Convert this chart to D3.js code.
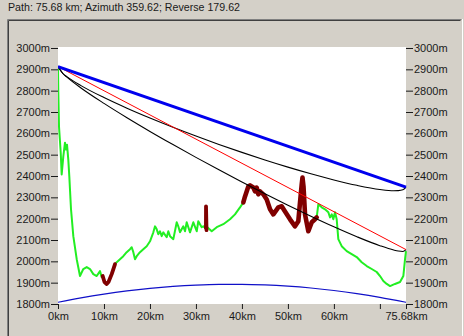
<!DOCTYPE html>
<html><head><meta charset="utf-8">
<script src="https://cdn.jsdelivr.net/npm/d3@7"></script>
<style>
html,body{margin:0;padding:0;background:#d4d0c8;overflow:hidden;}
svg{display:block;}
text{font-family:"Liberation Sans",Arial,sans-serif;font-size:11px;fill:#1a1a1a;}
</style></head>
<body>
<svg id="c" width="464" height="336"></svg>
<script>
const title = "Path: 75.68 km; Azimuth 359.62; Reverse 179.62";
const pathLength = 75.68;
const xTicks = [0, 10, 20, 30, 40, 50, 60, 70, 75.68];
const xTickLabels = ["0km","10km","20km","30km","40km","50km","60km","","75.68km"];
const yTicks = [1800,1900,2000,2100,2200,2300,2400,2500,2600,2700,2800,2900,3000];

// terrain profile (km, m)
const terrainKm = [0,0.07,0.22,0.59,0.80,1.15,1.52,1.74,1.96,2.24,2.46,2.83,3.33,4.07,4.78,5.50,6.24,6.96,7.68,8.42,9.13,9.50,9.72,10.11,10.59,10.98,11.68,12.40,12.77,13.48,14.20,14.94,15.66,16.03,16.38,16.75,17.12,17.83,18.55,19.29,20.01,20.73,21.10,21.47,21.81,22.18,22.55,22.90,23.64,23.99,24.36,25.08,25.82,26.16,26.53,27.25,27.62,27.99,28.71,29.43,30.17,30.51,31.25,31.60,32.08,32.17,32.19,32.30,32.47,33.43,34.52,35.95,37.41,38.49,39.58,40.30,40.67,41.39,41.76,42.48,42.84,43.21,43.56,43.93,44.65,45.39,46.11,46.83,47.91,48.65,49.37,50.46,51.54,52.26,52.63,53.00,53.17,53.39,53.72,54.44,55.18,55.89,56.26,56.61,57.35,58.07,58.79,59.16,59.53,59.87,60.24,60.61,60.96,61.70,62.79,63.87,64.96,66.05,67.14,68.23,69.31,70.03,70.75,71.49,72.21,73.29,74.38,75.10,75.47,75.68];
const terrainM = [2911,2790,2631,2510,2407,2491,2556,2524,2547,2477,2398,2244,2118,2010,1931,1964,1973,1964,1940,1931,1954,1926,1931,1903,1894,1903,1940,1987,1996,2010,2024,2043,2057,2066,2043,2010,2024,2043,2057,2071,2094,2136,2164,2150,2127,2141,2118,2136,2113,2141,2118,2104,2183,2164,2136,2164,2141,2183,2136,2183,2141,2188,2160,2164,2155,2155,2258,2146,2160,2141,2160,2174,2197,2220,2253,2276,2304,2351,2356,2346,2328,2346,2314,2328,2314,2290,2244,2220,2253,2258,2234,2197,2164,2188,2276,2360,2393,2351,2220,2141,2183,2197,2206,2267,2253,2244,2230,2206,2220,2197,2230,2197,2104,2071,2048,2034,2020,1996,1978,1964,1950,1931,1908,1894,1884,1894,1903,1931,2010,2048];
// obstructed stretches drawn in dark red (km ranges)
const obstructedRanges = [[9.70,12.45],[32.15,32.32],[40.25,56.30]];

// straight lines (km, m)
const blueLineKm = [0, 75.68];
const blueLineM = [2913, 2348];
const redLineKm = [0, 75.68];
const redLineM = [2913, 2055];

// curved clearance lines
const curveKm = [0,1,2,5,10,15,20,25,30,35,40,45,50,55,60,65,70,73,74,75,75.68];
const upperBlackM = [2913,2881.6,2864.4,2823.6,2767.5,2717.7,2671.6,2628.2,2587.1,2547.9,2510.7,2475.1,2441.6,2410.3,2381.6,2356.3,2336.9,2331.1,2331.6,2335.3,2348];
const lowerBlackM = [2913,2881.7,2862.2,2812.8,2740.4,2673.1,2609.0,2547.3,2487.3,2428.9,2372.1,2316.9,2263.2,2211.5,2161.9,2115.2,2073.3,2053.1,2048.3,2046.2,2055];

// earth bulge baseline
const bulgeKm = [0,5,10,15,20,25,30,35,40,45,50,55,60,65,70,75.68];
const bulgeM = [1808,1828.8,1846.6,1861.5,1873.5,1882.5,1888.6,1891.8,1892,1889.2,1883.5,1874.9,1863.3,1848.8,1831.4,1808];

const svg = d3.select("#c");
const W = 464, H = 336;
const plot = {l:58, r:406, t:47, b:304};

// title
svg.append("text").attr("x", 8).attr("y", 11).attr("textLength", 232).attr("lengthAdjust","spacingAndGlyphs").text(title);

// sunken panel frame
svg.append("line").attr("x1",7.5).attr("y1",19.5).attr("x2",461.5).attr("y2",19.5).attr("stroke","#808080");
svg.append("line").attr("x1",7.5).attr("y1",19.5).attr("x2",7.5).attr("y2",H).attr("stroke","#808080");
svg.append("line").attr("x1",8.5).attr("y1",20.5).attr("x2",460.5).attr("y2",20.5).attr("stroke","#404040");
svg.append("line").attr("x1",8.5).attr("y1",20.5).attr("x2",8.5).attr("y2",H).attr("stroke","#404040");
svg.append("line").attr("x1",462.5).attr("y1",19).attr("x2",462.5).attr("y2",H).attr("stroke","#ffffff");

const x = d3.scaleLinear().domain([0, pathLength]).range([plot.l, plot.r]);
const y = d3.scaleLinear().domain([1800, 3000]).range([plot.b, plot.t + 1]);

svg.append("rect").attr("x", plot.l).attr("y", plot.t).attr("width", plot.r - plot.l).attr("height", plot.b - plot.t).attr("fill", "#ffffff");

// axes
const axL = d3.axisLeft(y).tickValues(yTicks).tickFormat(d => d + "m").tickSize(7).tickPadding(1);
const axR = d3.axisRight(y).tickValues(yTicks).tickFormat(d => d + "m").tickSize(7).tickPadding(1);
const axB = d3.axisBottom(x).tickValues(xTicks).tickFormat((d,i) => xTickLabels[i]).tickSize(5).tickPadding(3);
function styleAxis(g){
  g.select(".domain").remove();
  g.selectAll("line").attr("stroke","#1a1a1a");
  g.selectAll("text").attr("font-family",null).attr("font-size",null).attr("fill","#1a1a1a");
}
svg.append("g").attr("transform",`translate(${plot.l},0)`).call(axL).call(styleAxis);
svg.append("g").attr("transform",`translate(${plot.r},0)`).call(axR).call(styleAxis);
svg.append("g").attr("transform",`translate(0,${plot.b})`).call(axB).call(styleAxis);

svg.append("clipPath").attr("id","pc").append("rect")
  .attr("x", plot.l).attr("y", plot.t).attr("width", plot.r - plot.l + 1).attr("height", plot.b - plot.t);
const g = svg.append("g").attr("clip-path","url(#pc)");

const lineLin = d3.line().x(d => x(d[0])).y(d => y(d[1]));
const lineCurve = d3.line().x(d => x(d[0])).y(d => y(d[1])).curve(d3.curveMonotoneX);

// terrain
const terrain = terrainKm.map((k,i) => [k, terrainM[i]]);
g.append("path").datum(terrain).attr("d", lineLin).attr("fill","none")
  .attr("stroke","#22ee22").attr("stroke-width",2).attr("stroke-linejoin","round");
obstructedRanges.forEach(([a,b], i) => {
  const seg = terrain.filter(d => d[0] >= a && d[0] <= b);
  g.append("path").datum(seg).attr("d", lineLin).attr("fill","none")
    .attr("stroke","#800000").attr("stroke-width", i === 2 ? 4.6 : 3.8)
    .attr("stroke-linejoin","round").attr("stroke-linecap","round");
});

// bulge
g.append("path").datum(bulgeKm.map((k,i)=>[k,bulgeM[i]])).attr("d", lineCurve).attr("fill","none")
  .attr("stroke","#1010c8").attr("stroke-width",1.2);

// clearance curves
g.append("path").datum(curveKm.map((k,i)=>[k,upperBlackM[i]])).attr("d", lineCurve).attr("fill","none")
  .attr("stroke","#000000").attr("stroke-width",1.1);
g.append("path").datum(curveKm.map((k,i)=>[k,lowerBlackM[i]])).attr("d", lineCurve).attr("fill","none")
  .attr("stroke","#000000").attr("stroke-width",1.1);

// straight lines
g.append("path").datum(redLineKm.map((k,i)=>[k,redLineM[i]])).attr("d", lineLin).attr("fill","none")
  .attr("stroke","#ff0000").attr("stroke-width",1);
g.append("path").datum(blueLineKm.map((k,i)=>[k,blueLineM[i]])).attr("d", lineLin).attr("fill","none")
  .attr("stroke","#0000ee").attr("stroke-width",3);
</script>
</body></html>
